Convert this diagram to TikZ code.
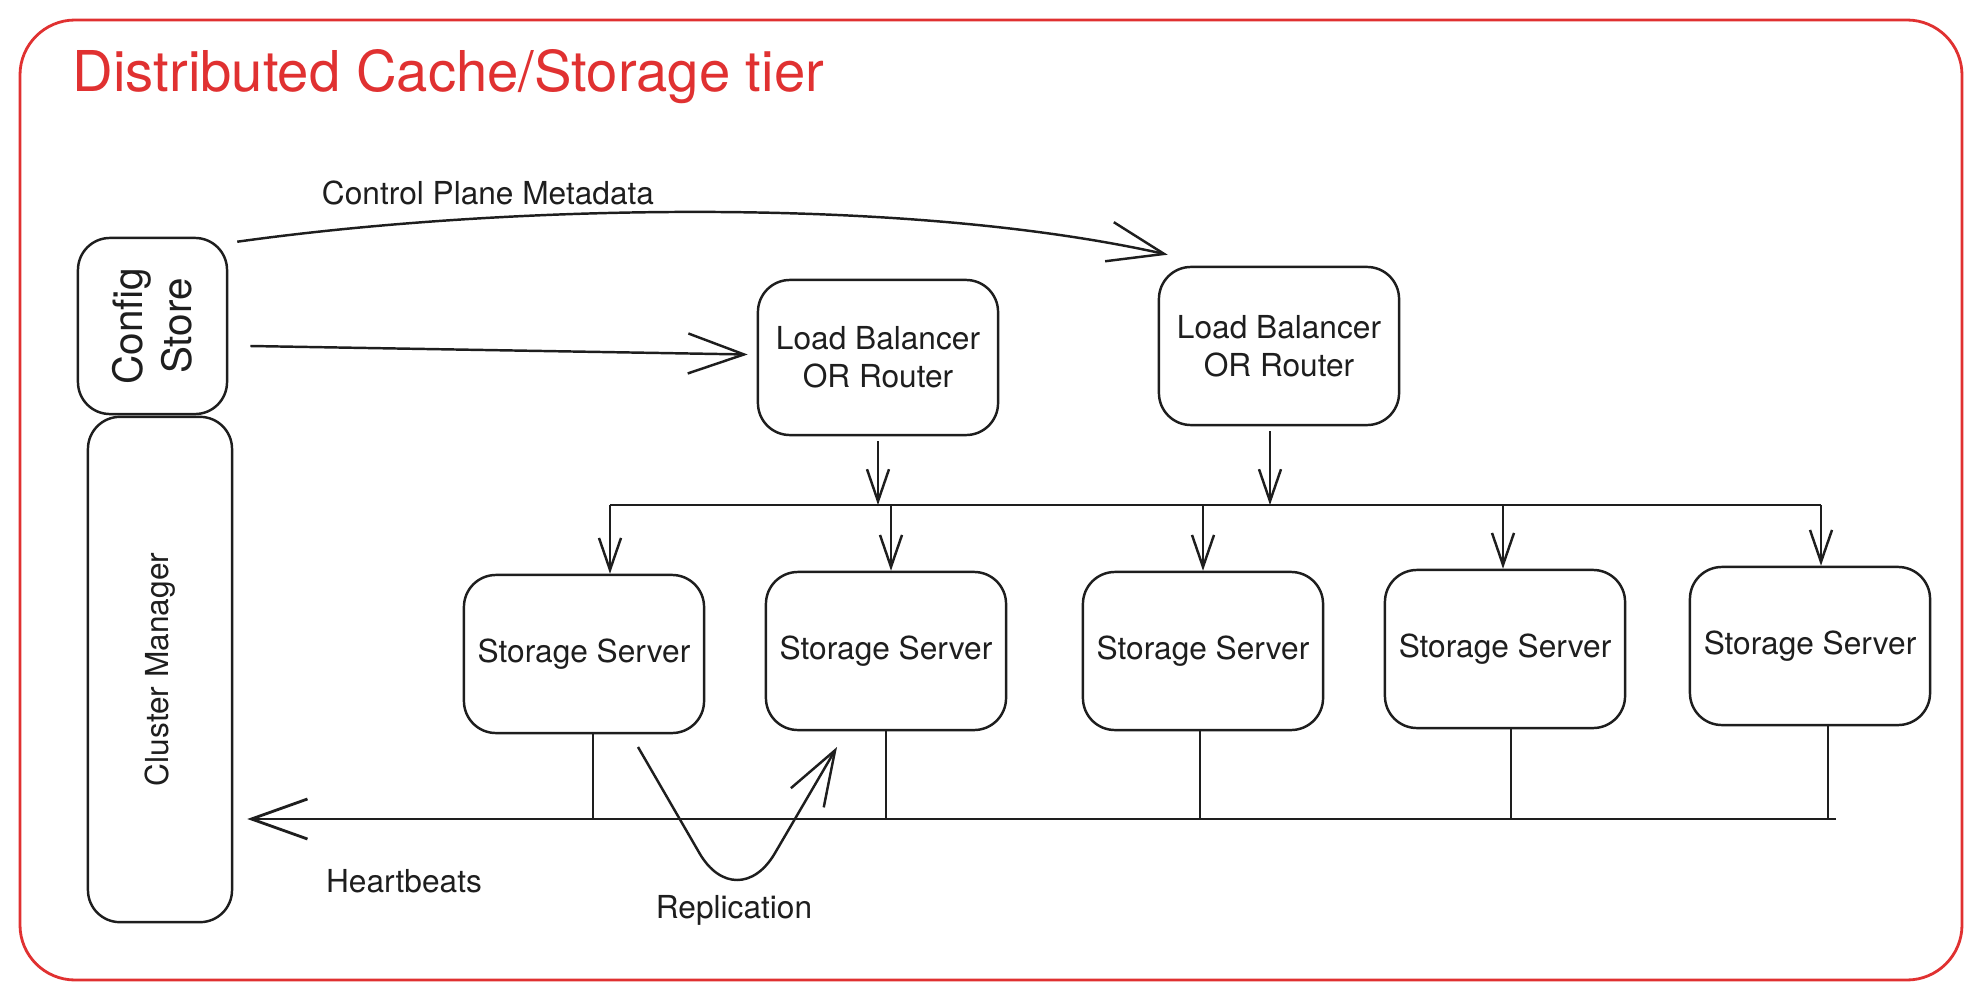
\documentclass[tikz,border=0pt]{standalone}
\usepackage{fontspec}
\setmainfont{TeX Gyre Heros}
\usetikzlibrary{arrows.meta,calc}
\definecolor{inkred}{HTML}{E03131}
\definecolor{ink}{HTML}{1E1E1E}
\begin{document}
\begin{tikzpicture}[x=0.01cm,y=-0.01cm,
    box/.style={draw=ink,line width=0.7pt,rounded corners=0.32cm,inner sep=0pt,
      minimum width=2.4cm,minimum height=1.58cm,align=center,text=ink,
      font=\fontsize{9}{10.8}\selectfont},
    lbl/.style={text=ink,font=\fontsize{9}{10.8}\selectfont},
    bigtip/.style={draw=ink,line width=0.7pt,-{Straight Barb[length=5.6mm,width=4mm]}},
    smalltip/.style={draw=ink,line width=0.7pt,-{Straight Barb[length=3.2mm,width=2.2mm]}}]
  \useasboundingbox (0,0) rectangle (1981,1000);
  % outer frame and title
  \draw[inkred,line width=0.8pt,rounded corners=0.55cm] (20,20) rectangle (1962,980);
  \node[anchor=base west,inner sep=0pt,text=inkred,font=\fontsize{16}{19}\selectfont]
    (title) at (72,91) {Distributed Cache/Storage tier};
  % left column
  \node[box,minimum width=1.49cm,minimum height=1.76cm] (cfg) at (152.5,326) {};
  \node[rotate=90,align=center,text=ink,font=\fontsize{11.5}{14}\selectfont] at (cfg) {Config\\Store};
  \node[box,minimum width=1.44cm,minimum height=5.05cm] (cm) at (160,669.5) {};
  \node[rotate=90,lbl] at (cm) {Cluster Manager};
  % routers
  \node[box,minimum height=1.55cm] (lb1) at (878,357.5) {Load Balancer\\OR Router};
  \node[box] (lb2) at (1279,346) {Load Balancer\\OR Router};
  % storage servers
  \foreach \n/\x/\y in {1/584/654,2/886/651,3/1203/651,4/1505/649,5/1810/646}
    \node[box] (s\n) at (\x,\y) {Storage Server};
  % config store to routers
  \draw[bigtip] ($(cfg.north east)+(9,5)$) .. controls (500,205) and (900,195) .. ($(lb2.north west)+(10,-11)$);
  \node[lbl] (cpm) at (488,193) {Control Plane Metadata};
  \draw[bigtip] ($(cfg.east)+(22,20)$) -- ($(lb1.west)+(-9,-3)$);
  % request bus
  \coordinate (busL) at (610,505);
  \coordinate (busR) at (1821,505);
  \draw[ink,line width=0.7pt] (busL) -- (busR);
  \draw[smalltip] ($(lb1.south)+(0,5)$) -- (lb1.south |- busL);
  \draw[smalltip] ($(lb2.south)+(-9,5)$) -- ($(lb2.south |- busL)+(-9,0)$);
  \foreach \n/\x in {1/610,2/891,3/1203,4/1503,5/1821}{
    \coordinate (t\n) at (\x,505);
    \draw[smalltip] (t\n) -- (t\n |- s\n.north);
  }
  % heartbeat bus
  \coordinate (hbR) at (1836,819);
  \foreach \n/\x in {1/593,2/886,3/1200,4/1511,5/1828}{
    \coordinate (b\n) at (\x,819);
    \draw[ink,line width=0.7pt] (b\n |- s\n.south) -- (b\n);
  }
  \draw[bigtip,line width=0.8pt] (hbR) -- ($(cm.east |- hbR)+(14,0)$);
  \node[lbl] (hb) at (404,881) {Heartbeats};
  % replication
  \coordinate (repA) at (638,747);
  \coordinate (repB) at (837,747);
  \draw[ink,line width=0.7pt,rounded corners=0.75cm,-{Straight Barb[length=5.5mm,width=3.8mm]}]
    (repA) -- (737,918) -- (repB);
  \node[lbl] (rep) at (734,910) {Replication};
\end{tikzpicture}
\end{document}
